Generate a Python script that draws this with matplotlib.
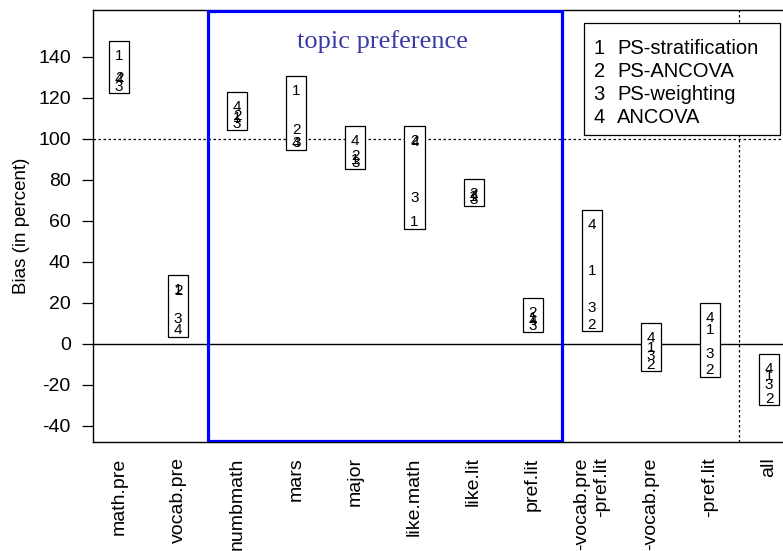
import matplotlib
matplotlib.use("Agg")
import matplotlib.pyplot as plt
from matplotlib.patches import Rectangle

plt.rcParams['font.family'] = ['Liberation Sans', 'DejaVu Sans']
plt.rcParams['axes.unicode_minus'] = False

categories = ["math.pre", "vocab.pre", "numbmath", "mars", "major", "like.math",
              "like.lit", "pref.lit", "-vocab.pre\n-pref.lit", "-vocab.pre",
              "-pref.lit", "all"]
method_ids = ["1", "2", "3", "4"]
method_names = ["PS-stratification", "PS-ANCOVA", "PS-weighting", "ANCOVA"]
ps_strat = [141, 27, 111, 124, 90.5, 60, 72.5, 13.5, 36, -1.5, 7.3, -15.2]
ps_ancova = [130.5, 26.5, 112, 105, 92.5, 99.5, 74, 15.5, 10, -9.5, -12.2, -26]
ps_weight = [126, 12.7, 108, 98.5, 89, 72, 71, 9.5, 18, -5, -4.4, -19.6]
ancova = [130, 7.3, 116, 98.8, 99.5, 99, 73, 12, 58.7, 3.7, 13.3, -11.4]
series = [ps_strat, ps_ancova, ps_weight, ancova]
yticks = [-40, -20, 0, 20, 40, 60, 80, 100, 120, 140]

W, H = 783, 551
fig = plt.figure(figsize=(W / 100, H / 100), dpi=100)
left_px, right_px, top_px, bot_px = 93, 795, 10, 442
ax = fig.add_axes([left_px / W, 1 - bot_px / H, (right_px - left_px) / W, (bot_px - top_px) / H])

xs = list(range(1, len(categories) + 1))
ax.set_xlim(0.56, 12.44)
ax.set_ylim(-47.9, 162.8)

# reference lines
ax.axhline(0, color='black', lw=1.0, zorder=1)
ax.axhline(100, color='black', lw=0.9, ls=(0, (2, 2)), zorder=1)
for xv in [2.5, 8.5, 11.5]:
    ax.axvline(xv, color='black', lw=0.9, ls=(0, (2, 2)), zorder=1)

# topic preference box
ax.add_patch(Rectangle((2.5, 0.003), 6.0, 0.994,
                       transform=ax.get_xaxis_transform(), fill=False,
                       edgecolor='#0000ff', lw=2.3, zorder=3))
ax.text(5.46, 0.928, "topic preference", transform=ax.get_xaxis_transform(),
        ha='center', va='center', fontsize=19, color='#3a3aa6',
        family=['Liberation Serif', 'DejaVu Serif'], zorder=4)

# boxes with method numbers
fs = 11
for i, x in enumerate(xs):
    vals = [s[i] for s in series]
    lo, hi = min(vals), max(vals)
    ax.add_patch(Rectangle((x - 0.17, lo - 3.8), 0.34, (hi + 6.6) - (lo - 3.8),
                           fill=True, facecolor='white', edgecolor='black',
                           lw=0.9, zorder=5))
    for lab, v in zip(method_ids, vals):
        ax.annotate(lab, (x, v), xytext=(0, -0.358 * fs), textcoords='offset points',
                    ha='center', va='baseline', fontsize=fs, zorder=6)

# legend drawn manually
ax.add_patch(Rectangle((0.699, 0.711), 0.28, 0.259, transform=ax.transAxes,
                       fill=True, facecolor='white', edgecolor='black', lw=0.9, zorder=7))
for k, (mid, name) in enumerate(zip(method_ids, method_names)):
    yy = 0.912 - k * 0.0535
    ax.text(0.721, yy, mid, transform=ax.transAxes, ha='center', va='center',
            fontsize=14.5, zorder=8)
    ax.text(0.747, yy, name, transform=ax.transAxes, ha='left', va='center',
            fontsize=14.5, zorder=8)

# axes styling
ax.set_yticks(yticks)
ax.set_yticklabels([str(t) for t in yticks], fontsize=14)
ax.tick_params(axis='y', length=8, width=0.9, pad=8)
ax.set_xticks(xs)
ax.set_xticklabels(categories, rotation=90, fontsize=14, ha='center', va='top')
for t in ax.get_xticklabels():
    t.set_multialignment('right')
ax.tick_params(axis='x', length=0, pad=11)
ax.set_ylabel("Bias (in percent)", fontsize=13.5, labelpad=6)
for sp in ax.spines.values():
    sp.set_linewidth(1.0)

fig.savefig("out.png", dpi=100)
